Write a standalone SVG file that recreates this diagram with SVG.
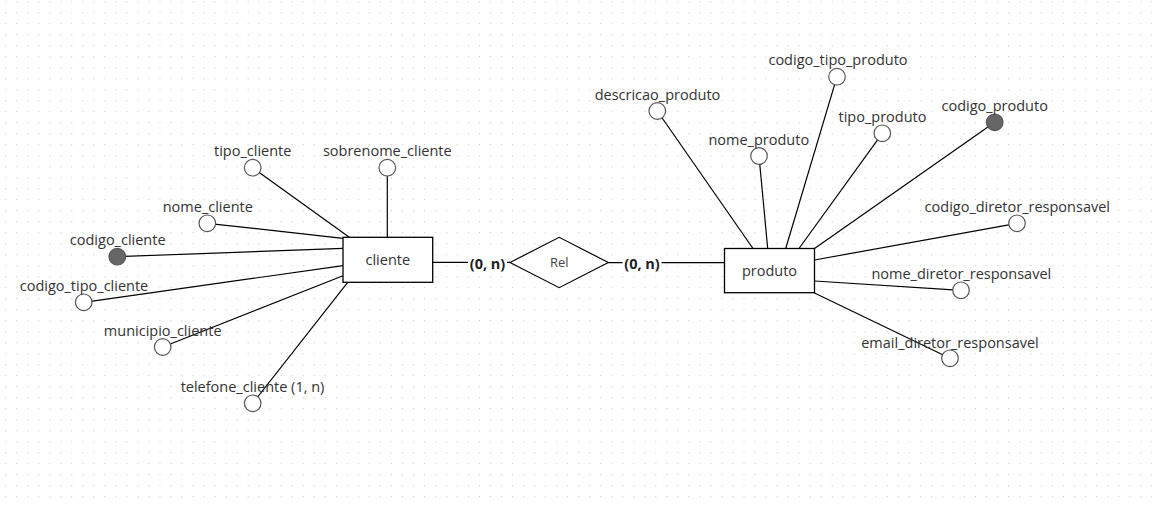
<svg xmlns="http://www.w3.org/2000/svg" width="1157" height="506" viewBox="0 0 1157 506">
<defs>
<pattern id="grid" patternUnits="userSpaceOnUse" x="5.2" y="1.2" width="11.02" height="11">
<rect x="0" y="0" width="1" height="1" fill="#c4c4c4"/>
</pattern>
<style>
.lbl{font-family:"Open Sans","Liberation Sans",sans-serif;font-size:14.5px;fill:#333;text-anchor:middle}
.card{font-family:"Open Sans","Liberation Sans",sans-serif;font-size:14.5px;font-weight:bold;fill:#222;text-anchor:middle}
.ent{fill:#fff;stroke:#000;stroke-width:1.3}
.att{fill:#fff;stroke:#555;stroke-width:1.2}
.key{fill:#666;stroke:#555;stroke-width:1.2}
.ln{stroke:#000;stroke-width:1.2;fill:none}
</style>
</defs>
<rect width="1157" height="506" fill="#fff"/>
<rect width="1157" height="506" fill="url(#grid)"/>

<g id="connectors">
<line class="ln" x1="252.7" y1="167.7" x2="349.3" y2="237.3"/>
<line class="ln" x1="387.3" y1="167.7" x2="387.3" y2="237.3"/>
<line class="ln" x1="207.3" y1="223.3" x2="343" y2="238.3"/>
<line class="ln" x1="117.3" y1="256.7" x2="343" y2="248.3"/>
<line class="ln" x1="83.7" y1="302.3" x2="343" y2="265.7"/>
<line class="ln" x1="162.7" y1="347" x2="343" y2="275.7"/>
<line class="ln" x1="252.7" y1="403.3" x2="347.7" y2="282.3"/>

<line class="ln" x1="657.3" y1="111" x2="753" y2="248.5"/>
<line class="ln" x1="759" y1="156" x2="767.7" y2="248.5"/>
<line class="ln" x1="837" y1="76.7" x2="785.7" y2="248.5"/>
<line class="ln" x1="882.3" y1="133.3" x2="799" y2="248.5"/>
<line class="ln" x1="994.7" y1="122.3" x2="814.5" y2="248.5"/>
<line class="ln" x1="1017" y1="223.3" x2="814.5" y2="260"/>
<line class="ln" x1="961" y1="290.3" x2="814.5" y2="281"/>
<line class="ln" x1="950" y1="358.3" x2="814.5" y2="293"/>

<g id="edge-cliente-rel">
<line class="ln" x1="433" y1="262.3" x2="510" y2="262.3"/>
<rect x="468" y="253" width="39" height="18" fill="#fff"/>
<text class="card" x="487.5" y="268.5">(0, n)</text>
</g>
<g id="edge-rel-produto">
<line class="ln" x1="608.3" y1="262.6" x2="724.5" y2="262.6"/>
<rect x="622.5" y="253" width="39" height="18" fill="#fff"/>
<text class="card" x="642" y="268.5">(0, n)</text>
</g>
</g>

<g id="cliente">
<rect class="ent" x="343" y="237.3" width="89.7" height="45"/>
<text class="lbl" x="387.8" y="265">cliente</text>
</g>
<g id="produto">
<rect class="ent" x="724.5" y="248.5" width="90" height="44.2"/>
<text class="lbl" x="769.5" y="276">produto</text>
</g>
<g id="rel">
<polygon points="510,262.5 559.2,237.3 608.3,262.5 559.2,287.7" fill="#fff" stroke="#000" stroke-width="1.2"/>
<text x="559.3" y="267" font-family="'Open Sans','Liberation Sans',sans-serif" font-size="13" fill="#444" text-anchor="middle">Rel</text>
</g>

<g id="tipo_cliente"><circle class="att" cx="252.7" cy="167.7" r="8.3"/><text class="lbl" x="252.7" y="156">tipo_cliente</text></g>
<g id="sobrenome_cliente"><circle class="att" cx="387.3" cy="167.7" r="8.3"/><text class="lbl" x="387.3" y="156">sobrenome_cliente</text></g>
<g id="nome_cliente"><circle class="att" cx="207.3" cy="223.3" r="8.3"/><text class="lbl" x="207.8" y="212">nome_cliente</text></g>
<g id="codigo_cliente"><circle class="key" cx="117.3" cy="256.7" r="8.3"/><text class="lbl" x="117.7" y="245">codigo_cliente</text></g>
<g id="codigo_tipo_cliente"><circle class="att" cx="83.7" cy="302.3" r="8.3"/><text class="lbl" x="84" y="290.5">codigo_tipo_cliente</text></g>
<g id="municipio_cliente"><circle class="att" cx="162.7" cy="347" r="8.3"/><text class="lbl" x="162.7" y="335.5">municipio_cliente</text></g>
<g id="telefone_cliente"><circle class="att" cx="252.7" cy="403.3" r="8.3"/><text class="lbl" x="252.5" y="392">telefone_cliente (1, n)</text></g>

<g id="descricao_produto"><circle class="att" cx="657.3" cy="111" r="8.3"/><text class="lbl" x="657.5" y="99.5">descricao_produto</text></g>
<g id="nome_produto"><circle class="att" cx="759" cy="156" r="8.3"/><text class="lbl" x="758.8" y="144.5">nome_produto</text></g>
<g id="codigo_tipo_produto"><circle class="att" cx="837" cy="76.7" r="8.3"/><text class="lbl" x="838" y="65.2">codigo_tipo_produto</text></g>
<g id="tipo_produto"><circle class="att" cx="882.3" cy="133.3" r="8.3"/><text class="lbl" x="882.5" y="122">tipo_produto</text></g>
<g id="codigo_produto"><circle class="key" cx="994.7" cy="122.3" r="8.3"/><text class="lbl" x="994.7" y="111">codigo_produto</text></g>
<g id="codigo_diretor_responsavel"><circle class="att" cx="1017" cy="223.3" r="8.3"/><text class="lbl" x="1017.3" y="212">codigo_diretor_responsavel</text></g>
<g id="nome_diretor_responsavel"><circle class="att" cx="961" cy="290.3" r="8.3"/><text class="lbl" x="961.3" y="279">nome_diretor_responsavel</text></g>
<g id="email_diretor_responsavel"><circle class="att" cx="950" cy="358.3" r="8.3"/><text class="lbl" x="950" y="347.5">email_diretor_responsavel</text></g>
</svg>
